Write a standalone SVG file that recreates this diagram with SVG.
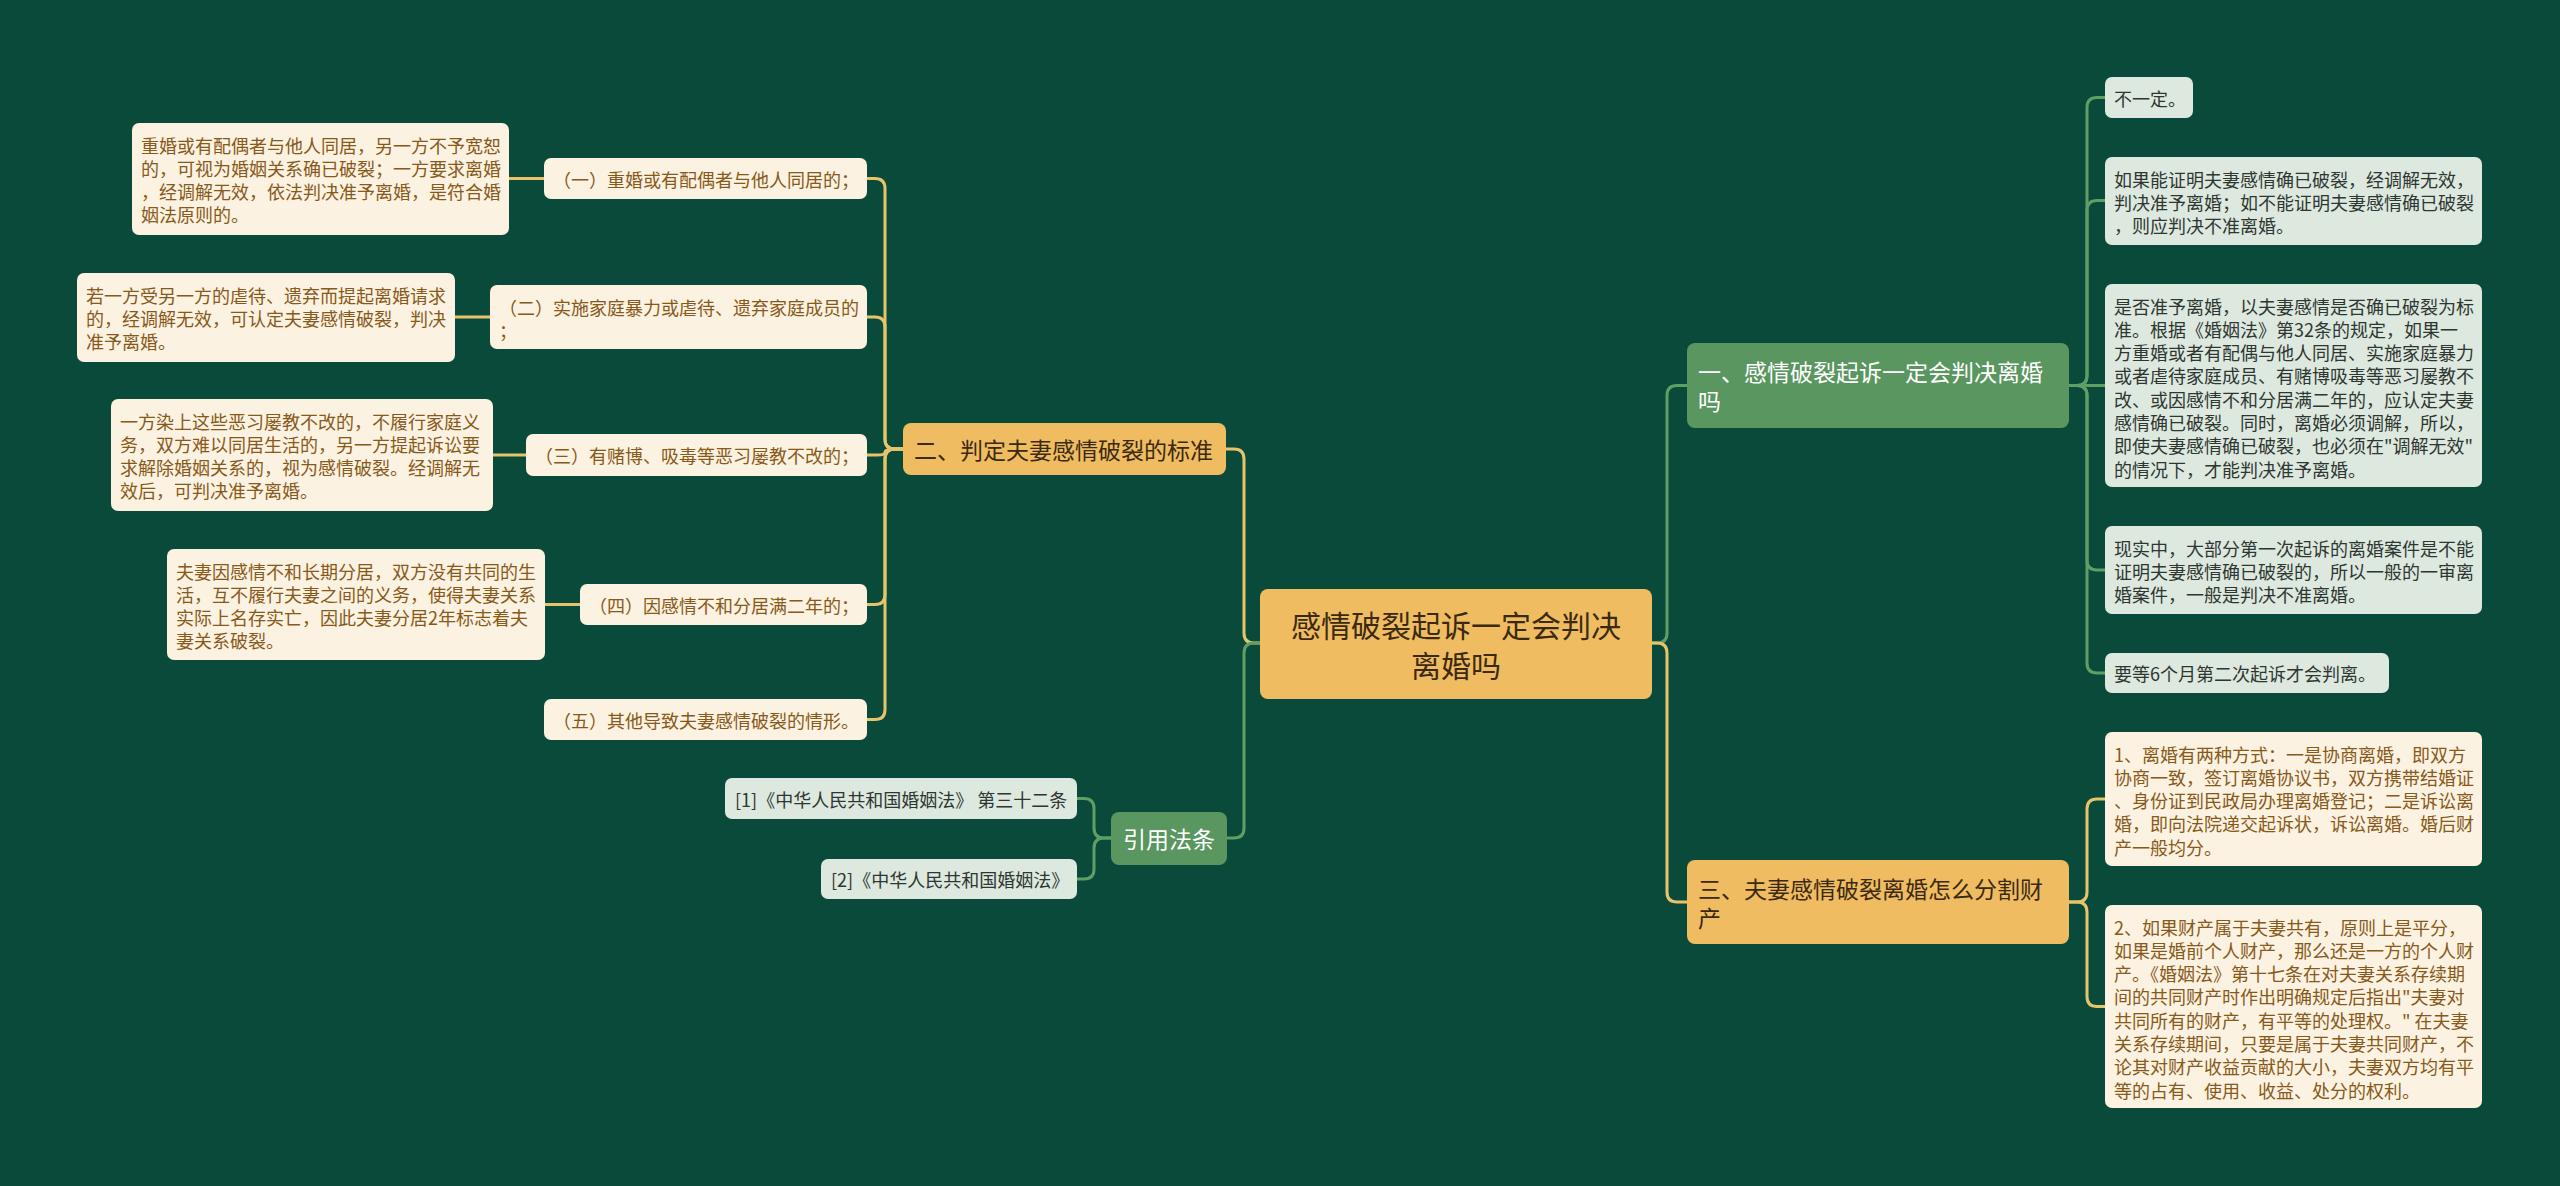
<svg xmlns="http://www.w3.org/2000/svg" width="2560" height="1186" viewBox="0 0 2560 1186">
<style>
text{font-family:"Noto Sans CJK SC","Noto Sans",sans-serif;dominant-baseline:central}
.gold{fill:#f0bc62}
.cream{fill:#fcf2e1}
.green{fill:#5a9660}
.lgreen{fill:#dde9df}
.tc{font-size:30px;fill:#3b2a10}
.tg{font-size:23px;fill:#3b2a10}
.tw{font-size:23px;fill:#ffffff}
.tb{font-size:18px;fill:#87591a}
.td{font-size:18px;fill:#2e3631}
.cg{fill:none;stroke:#e7c36c;stroke-width:3}
.cn{fill:none;stroke:#5f9f66;stroke-width:3}
</style>
<rect x="0" y="0" width="2560" height="1186" fill="#0a4a3a"/>
<g id="connectors">
<path class="cg" d="M1260,643 L1254,643 Q1244,643 1244,633 L1244,459 Q1244,449 1234,449 L1226,449"/>
<path class="cn" d="M1260,643 L1254,643 Q1244,643 1244,653 L1244,828 Q1244,838 1234,838 L1227,838"/>
<path class="cn" d="M1652,643 L1657,643 Q1667,643 1667,633 L1667,395.5 Q1667,385.5 1677,385.5 L1687,385.5"/>
<path class="cg" d="M1652,643 L1657,643 Q1667,643 1667,653 L1667,892 Q1667,902 1677,902 L1687,902"/>
<path class="cg" d="M903,449 L895,449 Q885,449 885,439 L885,188.5 Q885,178.5 875,178.5 L867,178.5"/>
<path class="cg" d="M903,449 L895,449 Q885,449 885,439 L885,327 Q885,317 875,317 L867,317"/>
<path class="cg" d="M903,449 L895,449 Q885,449 885,452 Q885,455 877,455 L867,455"/>
<path class="cg" d="M903,449 L895,449 Q885,449 885,459 L885,594.5 Q885,604.5 875,604.5 L867,604.5"/>
<path class="cg" d="M903,449 L895,449 Q885,449 885,459 L885,709.5 Q885,719.5 875,719.5 L867,719.5"/>
<path class="cg" d="M544,178.5 L509,178.5"/>
<path class="cg" d="M490,317 L455,317"/>
<path class="cg" d="M526,455 L493,455"/>
<path class="cg" d="M580,604.5 L545,604.5"/>
<path class="cn" d="M1111,838 L1104,838 Q1094,838 1094,828 L1094,808.5 Q1094,798.5 1084,798.5 L1077,798.5"/>
<path class="cn" d="M1111,838 L1104,838 Q1094,838 1094,848 L1094,869 Q1094,879 1084,879 L1077,879"/>
<path class="cn" d="M2069,385.5 L2077,385.5 Q2087,385.5 2087,375.5 L2087,107.5 Q2087,97.5 2097,97.5 L2105,97.5"/>
<path class="cn" d="M2069,385.5 L2077,385.5 Q2087,385.5 2087,375.5 L2087,210.5 Q2087,200.5 2097,200.5 L2105,200.5"/>
<path class="cn" d="M2069,385.5 L2105,385.5"/>
<path class="cn" d="M2069,385.5 L2077,385.5 Q2087,385.5 2087,395.5 L2087,560 Q2087,570 2097,570 L2105,570"/>
<path class="cn" d="M2069,385.5 L2077,385.5 Q2087,385.5 2087,395.5 L2087,663 Q2087,673 2097,673 L2105,673"/>
<path class="cg" d="M2069,902 L2077,902 Q2087,902 2087,892 L2087,809 Q2087,799 2097,799 L2105,799"/>
<path class="cg" d="M2069,902 L2077,902 Q2087,902 2087,912 L2087,996.5 Q2087,1006.5 2097,1006.5 L2105,1006.5"/>
</g>
<g id="center">
<rect class="gold" x="1260" y="589" width="392" height="110" rx="8"/>
<text class="tc" x="1456" y="624" text-anchor="middle">感情破裂起诉一定会判决</text>
<text class="tc" x="1456" y="664" text-anchor="middle">离婚吗</text>
</g>
<g id="b2">
<rect class="gold" x="903" y="423" width="323" height="52" rx="8"/>
<text class="tg" x="914" y="449">二、判定夫妻感情破裂的标准</text>
</g>
<g id="b2-1">
<rect class="cream" x="544" y="158" width="323" height="41" rx="7"/>
<text class="tb" x="553" y="178.5">（一）重婚或有配偶者与他人同居的；</text>
</g>
<g id="b2-1d">
<rect class="cream" x="132" y="123" width="377" height="112" rx="7"/>
<text class="tb" x="141" y="144.5">重婚或有配偶者与他人同居，另一方不予宽恕</text>
<text class="tb" x="141" y="167.8">的，可视为婚姻关系确已破裂；一方要求离婚</text>
<text class="tb" x="141" y="191.1">，经调解无效，依法判决准予离婚，是符合婚</text>
<text class="tb" x="141" y="214.4">姻法原则的。</text>
</g>
<g id="b2-2">
<rect class="cream" x="490" y="285" width="377" height="64" rx="7"/>
<text class="tb" x="499" y="306.5">（二）实施家庭暴力或虐待、遗弃家庭成员的</text>
<text class="tb" x="499" y="329.8">；</text>
</g>
<g id="b2-2d">
<rect class="cream" x="77" y="273" width="378" height="89" rx="7"/>
<text class="tb" x="86" y="294.5">若一方受另一方的虐待、遗弃而提起离婚请求</text>
<text class="tb" x="86" y="317.8">的，经调解无效，可认定夫妻感情破裂，判决</text>
<text class="tb" x="86" y="341.1">准予离婚。</text>
</g>
<g id="b2-3">
<rect class="cream" x="526" y="434" width="341" height="42" rx="7"/>
<text class="tb" x="535" y="455">（三）有赌博、吸毒等恶习屡教不改的；</text>
</g>
<g id="b2-3d">
<rect class="cream" x="111" y="399" width="382" height="112" rx="7"/>
<text class="tb" x="120" y="420.5">一方染上这些恶习屡教不改的，不履行家庭义</text>
<text class="tb" x="120" y="443.8">务，双方难以同居生活的，另一方提起诉讼要</text>
<text class="tb" x="120" y="467.1">求解除婚姻关系的，视为感情破裂。经调解无</text>
<text class="tb" x="120" y="490.4">效后，可判决准予离婚。</text>
</g>
<g id="b2-4">
<rect class="cream" x="580" y="584" width="287" height="41" rx="7"/>
<text class="tb" x="589" y="604.5">（四）因感情不和分居满二年的；</text>
</g>
<g id="b2-4d">
<rect class="cream" x="167" y="549" width="378" height="111" rx="7"/>
<text class="tb" x="176" y="570.5">夫妻因感情不和长期分居，双方没有共同的生</text>
<text class="tb" x="176" y="593.8">活，互不履行夫妻之间的义务，使得夫妻关系</text>
<text class="tb" x="176" y="617.1">实际上名存实亡，因此夫妻分居2年标志着夫</text>
<text class="tb" x="176" y="640.4">妻关系破裂。</text>
</g>
<g id="b2-5">
<rect class="cream" x="544" y="699" width="323" height="41" rx="7"/>
<text class="tb" x="553" y="719.5">（五）其他导致夫妻感情破裂的情形。</text>
</g>
<g id="law">
<rect class="green" x="1111" y="812" width="116" height="53" rx="8"/>
<text class="tw" x="1169" y="838" text-anchor="middle">引用法条</text>
</g>
<g id="law-1">
<rect class="lgreen" x="725" y="778" width="352" height="41" rx="7"/>
<text class="td" x="735" y="798.5">[1]《中华人民共和国婚姻法》 第三十二条</text>
</g>
<g id="law-2">
<rect class="lgreen" x="821" y="859" width="256" height="40" rx="7"/>
<text class="td" x="831" y="879">[2]《中华人民共和国婚姻法》</text>
</g>
<g id="b1">
<rect class="green" x="1687" y="343" width="382" height="85" rx="8"/>
<text class="tw" x="1698" y="371">一、感情破裂起诉一定会判决离婚</text>
<text class="tw" x="1698" y="400">吗</text>
</g>
<g id="b1-1">
<rect class="lgreen" x="2105" y="77" width="88" height="41" rx="7"/>
<text class="td" x="2114" y="97.5">不一定。</text>
</g>
<g id="b1-2">
<rect class="lgreen" x="2105" y="157" width="377" height="88" rx="7"/>
<text class="td" x="2114" y="178.5">如果能证明夫妻感情确已破裂，经调解无效，</text>
<text class="td" x="2114" y="201.8">判决准予离婚；如不能证明夫妻感情确已破裂</text>
<text class="td" x="2114" y="225.1">，则应判决不准离婚。</text>
</g>
<g id="b1-3">
<rect class="lgreen" x="2105" y="284" width="377" height="203" rx="7"/>
<text class="td" x="2114" y="305.5">是否准予离婚，以夫妻感情是否确已破裂为标</text>
<text class="td" x="2114" y="328.8">准。根据《婚姻法》第32条的规定，如果一</text>
<text class="td" x="2114" y="352.1">方重婚或者有配偶与他人同居、实施家庭暴力</text>
<text class="td" x="2114" y="375.4">或者虐待家庭成员、有赌博吸毒等恶习屡教不</text>
<text class="td" x="2114" y="398.7">改、或因感情不和分居满二年的，应认定夫妻</text>
<text class="td" x="2114" y="422">感情确已破裂。同时，离婚必须调解，所以，</text>
<text class="td" x="2114" y="445.3">即使夫妻感情确已破裂，也必须在"调解无效"</text>
<text class="td" x="2114" y="468.6">的情况下，才能判决准予离婚。</text>
</g>
<g id="b1-4">
<rect class="lgreen" x="2105" y="526" width="377" height="88" rx="7"/>
<text class="td" x="2114" y="547.5">现实中，大部分第一次起诉的离婚案件是不能</text>
<text class="td" x="2114" y="570.8">证明夫妻感情确已破裂的，所以一般的一审离</text>
<text class="td" x="2114" y="594.1">婚案件，一般是判决不准离婚。</text>
</g>
<g id="b1-5">
<rect class="lgreen" x="2105" y="653" width="284" height="40" rx="7"/>
<text class="td" x="2114" y="673">要等6个月第二次起诉才会判离。</text>
</g>
<g id="b3">
<rect class="gold" x="1687" y="860" width="382" height="84" rx="8"/>
<text class="tg" x="1698" y="888">三、夫妻感情破裂离婚怎么分割财</text>
<text class="tg" x="1698" y="917">产</text>
</g>
<g id="b3-1">
<rect class="cream" x="2105" y="732" width="377" height="134" rx="7"/>
<text class="tb" x="2114" y="753.5">1、离婚有两种方式：一是协商离婚，即双方</text>
<text class="tb" x="2114" y="776.8">协商一致，签订离婚协议书，双方携带结婚证</text>
<text class="tb" x="2114" y="800.1">、身份证到民政局办理离婚登记；二是诉讼离</text>
<text class="tb" x="2114" y="823.4">婚，即向法院递交起诉状，诉讼离婚。婚后财</text>
<text class="tb" x="2114" y="846.7">产一般均分。</text>
</g>
<g id="b3-2">
<rect class="cream" x="2105" y="905" width="377" height="203" rx="7"/>
<text class="tb" x="2114" y="926.5">2、如果财产属于夫妻共有，原则上是平分，</text>
<text class="tb" x="2114" y="949.8">如果是婚前个人财产，那么还是一方的个人财</text>
<text class="tb" x="2114" y="973.1">产。《婚姻法》第十七条在对夫妻关系存续期</text>
<text class="tb" x="2114" y="996.4">间的共同财产时作出明确规定后指出"夫妻对</text>
<text class="tb" x="2114" y="1019.7">共同所有的财产，有平等的处理权。" 在夫妻</text>
<text class="tb" x="2114" y="1043">关系存续期间，只要是属于夫妻共同财产，不</text>
<text class="tb" x="2114" y="1066.3">论其对财产收益贡献的大小，夫妻双方均有平</text>
<text class="tb" x="2114" y="1089.6">等的占有、使用、收益、处分的权利。</text>
</g>
</svg>
